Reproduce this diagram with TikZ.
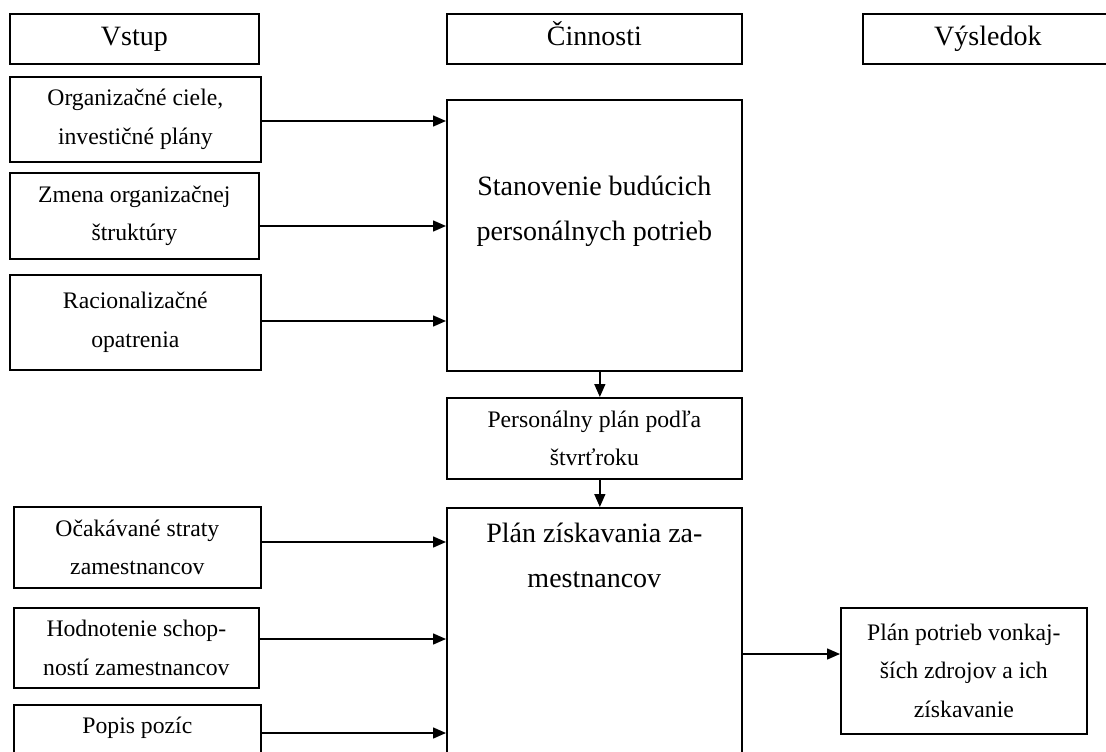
\documentclass[tikz,border=0pt]{standalone}
\usepackage{fontspec}
\setmainfont{Liberation Serif}
\usetikzlibrary{arrows.meta}
\newcommand\smalltxt{\fontsize{23.7}{38.5}\selectfont}
\newcommand\bigtxt{\fontsize{28}{45}\selectfont}

\begin{document}
\begin{tikzpicture}
[x=1pt,y=1pt,line width=1.5pt,%
  box/.style={shape=rectangle,draw,line width=1.7pt,inner sep=0pt,
    anchor=north west,align=center,font=\smalltxt},
  head/.style={box,font=\bigtxt,minimum height=50,text height=19pt,text depth=6pt},
  big/.style={font=\bigtxt,align=center,inner sep=0pt},
  arr/.style={-{Triangle[length=13pt,width=11pt]}}]
\clip (0,0) rectangle (1106,-752);
% headers
\node[head,minimum width=249] (vstup) at (9,-13) {Vstup};
\node[head,minimum width=295] (cinn) at (446,-13) {Činnosti};
\node[head,minimum width=250] (vysl) at (862,-13) {Výsledok};
% inputs
\node[box,minimum width=251,minimum height=85] (ciele) at (9,-76) {Organizačné ciele,\\investičné plány};
\node[box,minimum width=249,minimum height=86] (zmena) at (9,-172) {Zmena organizačnej\\štruktúry};
\node[box,minimum width=251,minimum height=95] (racio) at (9,-274) {Racionalizačné\\opatrenia};
\node[box,minimum width=247,minimum height=81] (ocak) at (13,-506) {Očakávané straty\\zamestnancov};
\node[box,minimum width=245,minimum height=80] (hodn) at (13,-607) {Hodnotenie schop-\\ností zamestnancov};
\node[box,minimum width=247,minimum height=80] (popis) at (13,-704) {Popis pozíc\\\mbox{}};
% activities
\node[box,minimum width=295,minimum height=271] (stan) at (446,-99) {};
\node[big] (stant) at ([yshift=24]stan.center) {Stanovenie budúcich\\personálnych potrieb};
\node[box,minimum width=295,minimum height=81] (perso) at (446,-397) {Personálny plán podľa\\štvrťroku};
\node[box,minimum width=295,minimum height=300] (plan) at (446,-507) {};
\node[big,anchor=north] (plant) at ([yshift=-15]plan.north) {Plán získavania za-\\mestnancov};
% result
\node[box,minimum width=246,minimum height=126] (vonk) at (840,-607) {Plán potrieb vonkaj-\\ších zdrojov a ich\\získavanie};
% connectors
\foreach \n/\y in {ciele/121,zmena/226,racio/321}
  \draw[arr] (\n.east |- 0,-\y) -- (stan.west |- 0,-\y);
\foreach \n/\y in {ocak/542,hodn/639,popis/733}
  \draw[arr] (\n.east |- 0,-\y) -- (plan.west |- 0,-\y);
\draw[arr] ([xshift=5.5]stan.south) -- ([xshift=5.5]perso.north);
\draw[arr] ([xshift=5.5]perso.south) -- ([xshift=5.5]plan.north);
\draw[arr] (plan.east |- 0,-654) -- (vonk.west |- 0,-654);
\end{tikzpicture}
\end{document}
